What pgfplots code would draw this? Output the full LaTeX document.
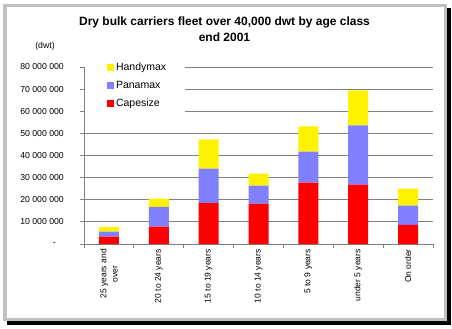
\documentclass[border=0pt]{standalone}
\usepackage{fontspec}
\setmainfont{Liberation Sans}
\usepackage{pgfplots}
\pgfplotsset{compat=1.18}
\definecolor{hy}{RGB}{255,242,0}
\definecolor{pa}{RGB}{128,128,255}
\definecolor{ca}{RGB}{255,0,0}
\definecolor{gridc}{RGB}{128,128,128}
\definecolor{frm}{RGB}{192,192,192}
\begin{document}
\begin{tikzpicture}[x=1bp,y=1bp]
\path[use as bounding box] (0,0) rectangle (452,328);
\fill[black] (7,3.5) rectangle (451,320);
\filldraw[fill=white,draw=frm,line width=3.5bp] (4.75,8.75) rectangle (445.25,322.25);
\node[align=center,font=\fontsize{12bp}{16bp}\selectfont\bfseries] at (224.5,298.3) {Dry bulk carriers fleet over 40,000 dwt by age class\\end 2001};
\node[font=\fontsize{8.7bp}{10bp}\selectfont] at (45,282) {(dwt)};
\begin{axis}[
  at={(84bp,84bp)}, anchor=south west, scale only axis,
  width=349bp, height=177bp,
  ybar stacked, bar width=20bp,
  xmin=-0.5, xmax=6.5, ymin=0, ymax=80000000,
  clip=false,
  axis x line*=bottom, axis y line*=left,
  axis line style={gridc, line width=0.8bp},
  ymajorgrids, grid style={gridc, line width=0.8bp},
  tick align=outside, major tick length=4bp,
  tick style={gridc, line width=0.8bp},
  xtick={-0.5,0.5,...,6.5}, xticklabels={{},{},{},{},{},{},{},{}},
  extra x ticks={0,1,2,3,4,5,6},
  extra x tick labels={{25 years and\\over},20 to 24 years,15 to 19 years,10 to 14 years,5 to 9 years,under 5 years,On order},
  extra x tick style={major tick length=0pt, xmajorgrids=false,
     xticklabel style={rotate=90, anchor=east, align=center, inner sep=0pt, xshift=-5bp,
       font=\fontsize{8.5bp}{11.3bp}\selectfont}},
  ytick={0,10000000,20000000,30000000,40000000,50000000,60000000,70000000,80000000},
  yticklabels={{\mbox{-\hspace{8bp}}},\mbox{10 000 000},\mbox{20 000 000},\mbox{30 000 000},\mbox{40 000 000},\mbox{50 000 000},\mbox{60 000 000},\mbox{70 000 000},\mbox{80 000 000}},
  yticklabel style={anchor=east, inner sep=0pt, xshift=-16bp, font=\fontsize{8.7bp}{10bp}\selectfont},
  scaled y ticks=false,
  reverse legend,
  legend cell align=left,
  legend style={at={(0.0659,1.025)}, anchor=north west, draw=none, fill=none, inner sep=0pt,
     row sep=9bp, font=\fontsize{10.5bp}{12bp}\selectfont, nodes={inner sep=0pt}},
  legend image code/.code={\fill[#1,draw=none] (0bp,-3.5bp) rectangle (7bp,3.5bp); \path (0bp,0bp) -- (8.8bp,0bp);},
]
\fill[white] (rel axis cs:0.003,1.02) rectangle (rel axis cs:0.29,0.7);
\addplot[fill=ca, draw=none] coordinates {(0,3300000) (1,7900000) (2,18600000) (3,18200000) (4,27700000) (5,26800000) (6,8600000)};
\addlegendentry{Capesize}
\addplot[fill=pa, draw=none] coordinates {(0,2300000) (1,8900000) (2,15500000) (3,8200000) (4,14100000) (5,26800000) (6,8700000)};
\addlegendentry{Panamax}
\addplot[fill=hy, draw=none] coordinates {(0,2100000) (1,3700000) (2,13200000) (3,5400000) (4,11400000) (5,15800000) (6,7700000)};
\addlegendentry{Handymax}
\end{axis}
\end{tikzpicture}
\end{document}
